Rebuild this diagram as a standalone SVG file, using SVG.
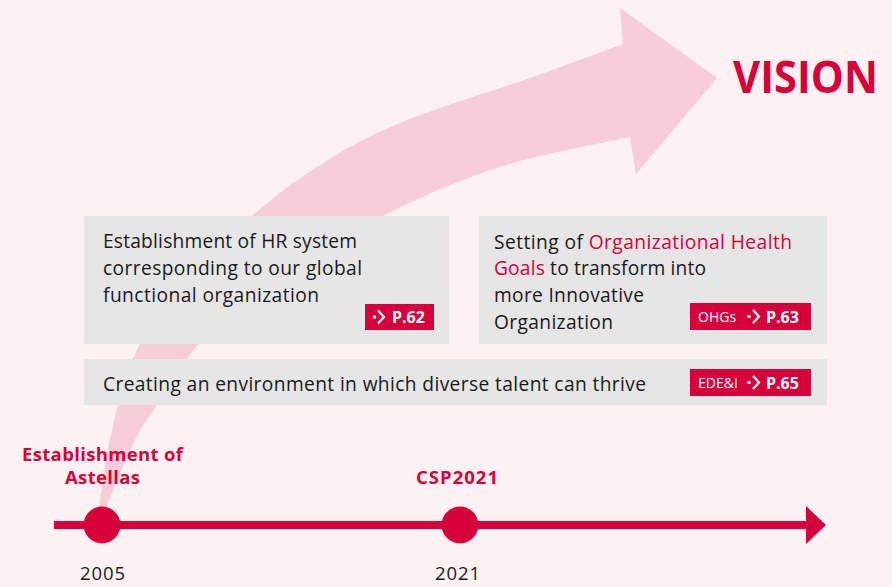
<svg xmlns="http://www.w3.org/2000/svg" width="892" height="587" viewBox="0 0 892 587">
<style>
.bg{fill:#fcf1f3}
.box{fill:#e6e6e6}
.badge{fill:#d6003a}
.body{font-family:"Open Sans","Noto Sans",sans-serif;font-size:19.2px;fill:#1a1a1a}
.hl{fill:#d6003a}
.lbl{font-family:"Open Sans","Noto Sans",sans-serif;font-size:18.5px;font-weight:bold;fill:#d6003a;text-anchor:middle}
.year{font-family:"Open Sans","Noto Sans",sans-serif;font-size:18.5px;fill:#1a1a1a;text-anchor:middle}
.pg{font-family:"Open Sans","Noto Sans",sans-serif;font-size:16px;font-weight:bold;fill:#ffffff}
.tag{font-family:"Open Sans","Noto Sans",sans-serif;font-size:14px;fill:#ffffff}
.chev{fill:none;stroke:#ffffff;stroke-width:2.2;stroke-linejoin:miter}
.dot{fill:#ffffff}
</style>
<rect class="bg" x="0" y="0" width="892" height="587"/>
<g id="vision-arrow">
<path fill="#f6cdd8" d="M99,508 C101.2,495 105.7,456.3 112,430 C118.3,403.7 124.8,375 137,350 C149.2,325 165.8,302.3 185,280 C204.2,257.7 229.5,235.2 252,216 C274.5,196.8 295.3,180.5 320,165 C344.7,149.5 364.5,137.7 400,123 C435.5,108.3 495.8,90.2 533,77 C570.2,63.8 608,49.5 623,44 L620,8 L717,78 L636,174 L630,137 C608.3,142 541.2,153.8 500,167 C458.8,180.2 423,195.5 383,216 C343,236.5 291,268.3 260,290 C229,311.7 214.2,326.8 197,346 C179.8,365.2 167.3,389.3 157,405 C146.7,420.7 143.5,422.8 135,440 C126.5,457.2 110.8,496.7 106,508 Z"/>
<text x="733" y="93" font-family="'Open Sans','Noto Sans',sans-serif" font-size="45" font-weight="bold" fill="#d6003a" textLength="145" lengthAdjust="spacingAndGlyphs">VISION</text>
</g>
<g id="box-hr">
<rect class="box" x="84" y="216" width="365" height="128"/>
<text class="body" x="103" y="248" textLength="254">Establishment of HR system</text>
<text class="body" x="103" y="275" textLength="259">corresponding to our global</text>
<text class="body" x="103" y="302" textLength="216">functional organization</text>
<rect class="badge" x="365" y="304" width="69" height="26"/>
<circle class="dot" cx="374.5" cy="317" r="1.8"/>
<path class="chev" d="M378,310.5 L384,317 L378,323.5"/>
<text class="pg" x="392" y="323">P.62</text>
</g>
<g id="box-ohg">
<rect class="box" x="479" y="216" width="348" height="128"/>
<text class="body" x="494" y="249" textLength="298">Setting of <tspan class="hl">Organizational Health</tspan></text>
<text class="body" x="494" y="275" textLength="212"><tspan class="hl">Goals</tspan> to transform into</text>
<text class="body" x="494" y="302" textLength="150">more Innovative</text>
<text class="body" x="494" y="329" textLength="119">Organization</text>
<rect class="badge" x="690" y="303" width="121" height="27"/>
<text class="tag" x="698" y="321.5">OHGs</text>
<circle class="dot" cx="749" cy="316.5" r="1.8"/>
<path class="chev" d="M753,310 L759,316.5 L753,323"/>
<text class="pg" x="766" y="322.5">P.63</text>
</g>
<g id="box-edei">
<rect class="box" x="84" y="359" width="743" height="46"/>
<text class="body" x="103" y="391" textLength="543">Creating an environment in which diverse talent can thrive</text>
<rect class="badge" x="690" y="369" width="121" height="27"/>
<text class="tag" x="698" y="387.5">EDE&amp;I</text>
<circle class="dot" cx="749" cy="382.5" r="1.8"/>
<path class="chev" d="M753,376 L759,382.5 L753,389"/>
<text class="pg" x="766" y="388.5">P.65</text>
</g>
<g id="connectors">
<line x1="54" y1="525" x2="808" y2="525" stroke="#d6003a" stroke-width="8"/>
<polygon points="806,506 826,525 806,544" fill="#d6003a"/>
</g>
<g id="milestone-2005">
<circle cx="102" cy="525" r="18.5" fill="#d6003a"/>
<text class="lbl" x="102.5" y="461" textLength="161">Establishment of</text>
<text class="lbl" x="102.5" y="484" textLength="75">Astellas</text>
<text class="year" x="102.5" y="580" textLength="45">2005</text>
</g>
<g id="milestone-2021">
<circle cx="460" cy="525" r="18.5" fill="#d6003a"/>
<text class="lbl" x="457" y="484" textLength="82">CSP2021</text>
<text class="year" x="457.5" y="580" textLength="45">2021</text>
</g>
</svg>
